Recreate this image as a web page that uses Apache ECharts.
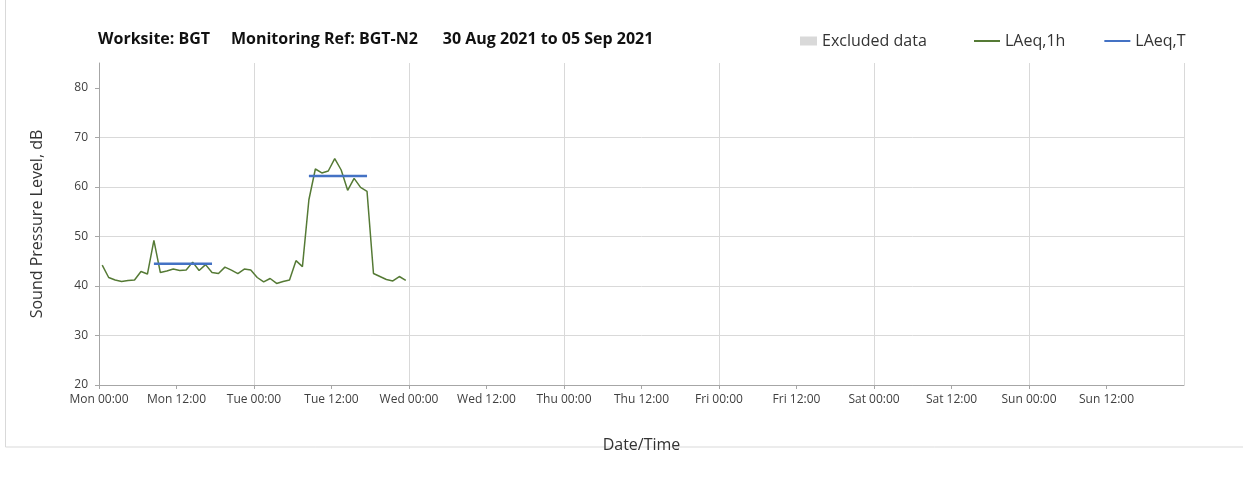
<!DOCTYPE html>
<html>
<head>
<meta charset="utf-8">
<title>BGT-N2 Sound Pressure Level</title>
<script src="https://cdn.jsdelivr.net/npm/echarts@6/dist/echarts.min.js"></script>
<style>
  html, body { margin: 0; padding: 0; background: #fff; }
  #chart { width: 1243px; height: 477px; }
</style>
</head>
<body>
<div id="chart"></div>
<script>
// hourly LAeq,1h, first value is the hour starting Mon 00:00
const firstHour = 0.5
const laeq1h = [
  44.2, 41.7, 41.2, 40.9, 41.1, 41.2, 42.9, 42.4, 49.2, 42.7,
  43.0, 43.4, 43.1, 43.2, 44.8, 43.1, 44.3, 42.7, 42.5, 43.8,
  43.2, 42.5, 43.4, 43.2, 41.7, 40.8, 41.5, 40.5, 40.9, 41.2,
  45.1, 43.9, 57.4, 63.6, 62.8, 63.2, 65.7, 63.4, 59.3, 61.7,
  59.9, 59.1, 42.5, 41.9, 41.3, 41.0, 41.9, 41.1
]

// LAeq,T periods (hours from Mon 00:00)
const periodStart = [8.5, 32.5]
const periodEnd = [17.5, 41.5]
const periodLevel = [44.5, 62.2]

const dayNames = ['Mon', 'Tue', 'Wed', 'Thu', 'Fri', 'Sat', 'Sun']
const yTicks = [20, 30, 40, 50, 60, 70, 80]

const chart = echarts.init(document.getElementById('chart'))

const lineData = laeq1h.map((v, i) => [firstHour + i, v])

const periodSeries = periodStart.map((s, i) => ({
  name: 'LAeq,T',
  type: 'line',
  data: [[s, periodLevel[i]], [periodEnd[i], periodLevel[i]]],
  symbol: 'none',
  lineStyle: { color: '#4472c4', width: 2.5 },
  itemStyle: { color: '#4472c4' },
  z: 3
}))

const fmtTime = v => {
  if (v >= 168) return ''
  const d = Math.floor(v / 24)
  const h = v % 24
  return dayNames[d] + ' ' + (h === 0 ? '00:00' : '12:00')
}

const option = {
  animation: false,
  textStyle: { fontFamily: 'Open Sans' },
  title: {
    text: 'Worksite: BGT     Monitoring Ref: BGT-N2      30 Aug 2021 to 05 Sep 2021',
    left: 93,
    top: 26,
    textStyle: { fontSize: 16, fontWeight: 'bold', color: '#111', fontFamily: 'Open Sans' }
  },
  legend: [
    {
      data: ['Excluded data'],
      left: 795,
      top: 28,
      itemWidth: 17,
      itemHeight: 9,
      icon: 'rect',
      textStyle: { fontSize: 16, color: '#333' }
    },
    {
      data: ['LAeq,1h', 'LAeq,T'],
      left: 969,
      top: 28,
      itemWidth: 26,
      itemHeight: 2,
      itemGap: 39,
      icon: 'rect',
      textStyle: { fontSize: 16, color: '#333' }
    }
  ],
  grid: { left: 99, right: 59, top: 63, bottom: 92 },
  xAxis: {
    type: 'value',
    min: 0,
    max: 168,
    interval: 12,
    name: 'Date/Time',
    nameLocation: 'middle',
    nameGap: 52,
    nameTextStyle: { fontSize: 16, color: '#333' },
    axisLine: { show: true, lineStyle: { color: '#a6a6a6' } },
    axisTick: { show: true, length: 4, lineStyle: { color: '#a6a6a6' } },
    axisLabel: { formatter: fmtTime, fontSize: 12, color: '#404040', margin: 9, showMaxLabel: false },
    splitLine: { show: true, lineStyle: { color: ['#d9d9d9', 'rgba(0,0,0,0)'], width: 1 } }
  },
  yAxis: {
    type: 'value',
    min: 20,
    max: 85,
    interval: 10,
    name: 'Sound Pressure Level, dB',
    nameLocation: 'middle',
    nameGap: 54,
    nameTextStyle: { fontSize: 16, color: '#333' },
    axisLine: { show: true, lineStyle: { color: '#a6a6a6' } },
    axisTick: { show: true, length: 4, customValues: yTicks, lineStyle: { color: '#a6a6a6' } },
    axisLabel: { customValues: yTicks, fontSize: 12, color: '#404040', margin: 11 },
    splitLine: { show: true, showMaxLine: false, lineStyle: { color: '#d9d9d9' } }
  },
  graphic: [
    {
      type: 'rect',
      shape: { x: 5.5, y: -5, width: 1300, height: 452 },
      style: { fill: 'none', stroke: '#d9d9d9', lineWidth: 1 },
      silent: true
    }
  ],
  series: [
    {
      name: 'Excluded data',
      type: 'bar',
      data: [],
      itemStyle: { color: '#d9d9d9' }
    },
    {
      name: 'LAeq,1h',
      type: 'line',
      data: lineData,
      symbol: 'none',
      lineStyle: { color: '#557a35', width: 1.5 },
      itemStyle: { color: '#557a35' },
      z: 2
    },
    ...periodSeries
  ]
}

chart.setOption(option)
</script>
</body>
</html>
